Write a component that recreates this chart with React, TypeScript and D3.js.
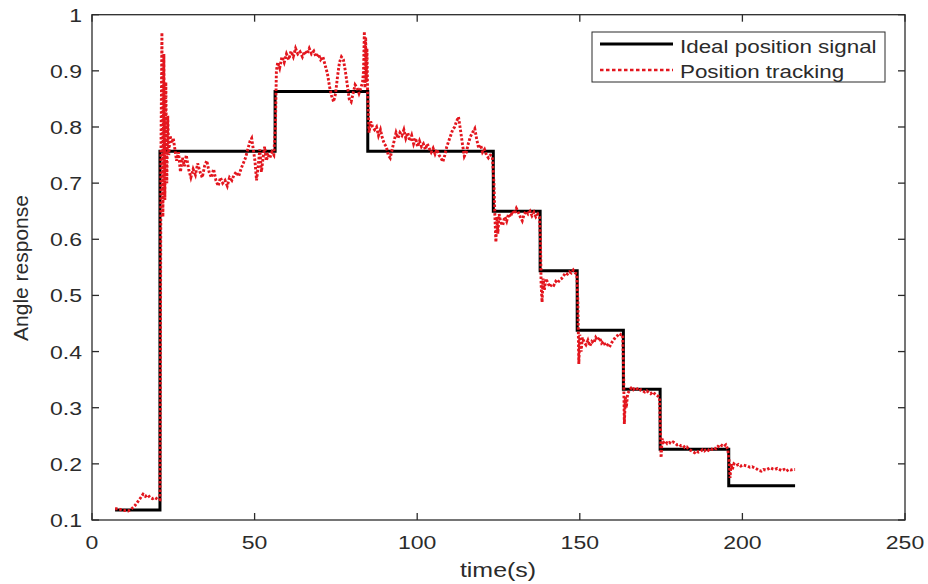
import * as React from 'react'
import * as d3 from 'd3'

// ideal step signal: switch times (s) and the level held from each switch
const idealTimes = [7.1, 20.9, 56.3, 84.8, 123.4, 137.8, 149.2, 163.4, 174.7, 195.8, 216.2]
const idealLevels = [0.118, 0.757, 0.863, 0.757, 0.65, 0.544, 0.438, 0.333, 0.226, 0.161, 0.161]

// measured position tracking, one list per step of the ideal signal
const trackLow: [number, number][] = [
  [7.1, 0.12], [8, 0.12], [9.1, 0.118], [10, 0.117], [11.1, 0.116], [12, 0.119], [13.1, 0.125],
  [14, 0.132], [15, 0.14], [15.7, 0.146], [16.4, 0.142], [17.1, 0.145], [17.9, 0.14], [18.6, 0.138],
  [19.4, 0.14], [20.1, 0.137], [20.9, 0.136],
]
const trackFirst: [number, number][] = [
  [21, 0.3], [21.2, 0.75], [21.5, 0.968], [21.8, 0.64], [22.1, 0.93], [22.4, 0.67], [22.7, 0.88],
  [23, 0.7], [23.3, 0.82], [23.6, 0.75], [24, 0.785], [24.5, 0.771], [25, 0.78], [25.5, 0.76],
  [26, 0.74], [26.6, 0.755], [27.2, 0.72], [27.8, 0.745], [28.4, 0.73], [29, 0.75], [29.7, 0.725],
  [30.4, 0.71], [31.1, 0.725], [31.8, 0.715], [32.5, 0.735], [33.2, 0.72], [33.9, 0.71], [34.6, 0.73],
  [35.3, 0.74], [36, 0.72], [36.7, 0.71], [37.4, 0.725], [38.1, 0.705], [38.8, 0.695], [39.5, 0.71],
  [40.2, 0.7], [40.9, 0.705], [41.6, 0.695], [42.3, 0.71], [43, 0.705], [43.7, 0.715], [44.4, 0.72],
  [45.1, 0.712], [45.8, 0.725], [46.5, 0.735], [47.2, 0.745], [47.9, 0.76], [48.6, 0.775], [49.1, 0.78],
  [49.6, 0.76], [50.1, 0.74], [50.6, 0.705], [51.1, 0.73], [51.6, 0.76], [52.1, 0.72], [52.6, 0.745],
  [53.1, 0.765], [53.6, 0.74], [54.1, 0.75], [54.7, 0.745], [55.3, 0.755], [55.9, 0.75],
]
const trackPeak: [number, number][] = [
  [56.4, 0.8], [56.7, 0.9], [57.1, 0.915], [57.7, 0.905], [58.4, 0.925], [59.1, 0.915], [59.8, 0.93],
  [60.5, 0.92], [61.2, 0.935], [61.9, 0.925], [62.6, 0.94], [63.3, 0.93], [64, 0.934], [64.7, 0.925],
  [65.4, 0.935], [66.1, 0.93], [66.8, 0.94], [67.5, 0.93], [68.2, 0.935], [68.9, 0.925], [69.6, 0.93],
  [70.3, 0.92], [71, 0.925], [71.7, 0.91], [72.4, 0.895], [73.1, 0.87], [73.7, 0.855], [74.3, 0.845],
  [74.9, 0.86], [75.5, 0.89], [76.1, 0.915], [76.7, 0.925], [77.3, 0.92], [77.9, 0.9], [78.5, 0.875],
  [79.1, 0.85], [79.7, 0.845], [80.3, 0.86], [80.9, 0.875], [81.5, 0.87], [82.1, 0.86], [82.7, 0.87],
  [83.2, 0.88], [83.5, 0.9], [83.75, 0.97], [83.95, 0.87], [84.15, 0.96], [84.35, 0.88], [84.55, 0.94],
  [84.75, 0.86],
]
const trackSecond: [number, number][] = [
  [85.2, 0.79], [85.7, 0.81], [86.3, 0.8], [86.9, 0.795], [87.5, 0.8], [88.1, 0.785], [88.7, 0.795],
  [89.3, 0.78], [89.9, 0.77], [90.5, 0.765], [91.1, 0.75], [91.7, 0.745], [92.3, 0.76], [92.9, 0.775],
  [93.5, 0.79], [94.1, 0.78], [94.7, 0.79], [95.3, 0.785], [95.9, 0.795], [96.5, 0.78], [97.1, 0.79],
  [97.7, 0.775], [98.3, 0.785], [98.9, 0.77], [99.5, 0.78], [100.1, 0.765], [100.7, 0.775], [101.3, 0.765],
  [101.9, 0.77], [102.5, 0.76], [103.1, 0.77], [103.7, 0.762], [104.3, 0.755], [104.9, 0.762],
  [105.5, 0.752], [106.1, 0.76], [106.7, 0.75], [107.3, 0.745], [107.9, 0.738], [108.5, 0.75],
  [109.1, 0.765], [109.7, 0.775], [110.3, 0.785], [110.9, 0.795], [111.5, 0.8], [112.1, 0.81],
  [112.7, 0.818], [113.3, 0.795], [113.9, 0.77], [114.5, 0.748], [115.1, 0.755], [115.7, 0.77],
  [116.3, 0.782], [117, 0.79], [117.7, 0.797], [118.3, 0.778], [118.9, 0.762], [119.5, 0.768],
  [120.1, 0.755], [120.7, 0.76], [121.3, 0.75], [121.9, 0.745], [122.5, 0.75], [123.1, 0.748],
]
const trackThird: [number, number][] = [
  [123.6, 0.7], [123.9, 0.64], [124.2, 0.595], [124.5, 0.64], [124.8, 0.61], [125.2, 0.645], [125.7, 0.63],
  [126.3, 0.625], [126.9, 0.64], [127.5, 0.632], [128.1, 0.645], [128.7, 0.64], [129.3, 0.65], [129.9, 0.645],
  [130.5, 0.655], [131.1, 0.648], [131.7, 0.64], [132.3, 0.633], [132.9, 0.645], [133.5, 0.65], [134.1, 0.645],
  [134.7, 0.65], [135.3, 0.642], [135.9, 0.648], [136.5, 0.64], [137.1, 0.645], [137.6, 0.64],
]
const trackFourth: [number, number][] = [
  [137.9, 0.6], [138.1, 0.52], [138.4, 0.488], [138.7, 0.53], [139.1, 0.51], [139.6, 0.53], [140.2, 0.522],
  [140.8, 0.515], [141.4, 0.52], [142, 0.518], [142.6, 0.525], [143.2, 0.522], [143.8, 0.528], [144.4, 0.53],
  [145, 0.535], [145.6, 0.54], [146.2, 0.538], [146.8, 0.542], [147.4, 0.54], [148, 0.545], [148.6, 0.54],
  [149.1, 0.538],
]
const trackFifth: [number, number][] = [
  [149.4, 0.49], [149.7, 0.378], [150, 0.43], [150.4, 0.4], [150.8, 0.425], [151.3, 0.417], [151.9, 0.412],
  [152.5, 0.42], [153.1, 0.41], [153.7, 0.418], [154.3, 0.415], [154.9, 0.425], [155.5, 0.42], [156.1, 0.425],
  [156.7, 0.415], [157.3, 0.418], [157.9, 0.41], [158.5, 0.412], [159.1, 0.408], [159.7, 0.415], [160.3, 0.42],
  [160.9, 0.425], [161.5, 0.428], [162.1, 0.432], [162.7, 0.43], [163.2, 0.43],
]
const trackSixth: [number, number][] = [
  [163.5, 0.35], [163.7, 0.271], [164, 0.32], [164.3, 0.3], [164.7, 0.325], [165.2, 0.33], [165.8, 0.335],
  [166.4, 0.332], [167, 0.336], [167.6, 0.334], [168.2, 0.33], [168.8, 0.332], [169.4, 0.33], [170, 0.328],
  [170.6, 0.33], [171.2, 0.327], [171.8, 0.325], [172.4, 0.328], [173, 0.325], [173.6, 0.322], [174.2, 0.32],
  [174.5, 0.318],
]
const trackSeventh: [number, number][] = [
  [174.8, 0.26], [175, 0.211], [175.3, 0.245], [175.7, 0.238], [176.3, 0.241], [176.9, 0.236], [177.5, 0.238],
  [178.1, 0.236], [178.7, 0.239], [179.3, 0.237], [179.9, 0.234], [180.5, 0.235], [181.1, 0.232], [181.7, 0.233],
  [182.3, 0.229], [182.9, 0.23], [183.5, 0.226], [184.1, 0.224], [184.7, 0.222], [185.3, 0.22], [185.9, 0.223],
  [186.5, 0.221], [187.1, 0.222], [187.7, 0.225], [188.3, 0.223], [188.9, 0.226], [189.5, 0.224], [190.1, 0.228],
  [190.7, 0.226], [191.3, 0.229], [191.9, 0.227], [192.5, 0.231], [193.1, 0.229], [193.7, 0.233], [194.3, 0.231],
  [194.9, 0.234], [195.5, 0.226],
]
const trackLast: [number, number][] = [
  [196, 0.2], [196.2, 0.175], [196.5, 0.2], [196.9, 0.19], [197.4, 0.2], [198.1, 0.197], [198.8, 0.199],
  [199.5, 0.196], [200.2, 0.198], [200.9, 0.197], [201.6, 0.196], [202.3, 0.194], [203, 0.195], [203.7, 0.193],
  [204.4, 0.191], [205.1, 0.188], [205.8, 0.187], [206.5, 0.19], [207.2, 0.189], [207.9, 0.191], [208.6, 0.193],
  [209.3, 0.191], [210, 0.19], [210.7, 0.192], [211.4, 0.19], [212.1, 0.188], [212.8, 0.19], [213.5, 0.187],
  [214.2, 0.19], [214.9, 0.189], [215.6, 0.19], [216.2, 0.19],
]

const xTickValues = [0, 50, 100, 150, 200, 250]
const yTickValues = [0.1, 0.2, 0.3, 0.4, 0.5, 0.6, 0.7, 0.8, 0.9, 1]
const legendLabels = ['Ideal position signal', 'Position tracking']

const width = 928
const height = 584
const plot = { left: 92, right: 905, top: 14.7, bottom: 520 }
const font = 'Liberation Sans, Arial, Helvetica, sans-serif'
const ink = '#2b2b2b'
const red = '#e3161e'
const stretch = 1.28

const Label = ({ x, y, size, anchor, children }: any) => (
  <text
    transform={`translate(${x},${y}) scale(${stretch},1)`}
    fontSize={size}
    fontFamily={font}
    fill={ink}
    textAnchor={anchor}
  >
    {children}
  </text>
)

export default function App() {
  const x = d3.scaleLinear().domain([0, 250]).range([plot.left, plot.right])
  const y = d3.scaleLinear().domain([0.1, 1]).range([plot.bottom, plot.top])

  const ideal = idealTimes.map((t, i) => [t, idealLevels[i]] as [number, number])
  const tracking = [
    ...trackLow, ...trackFirst, ...trackPeak, ...trackSecond, ...trackThird,
    ...trackFourth, ...trackFifth, ...trackSixth, ...trackSeventh, ...trackLast,
  ]

  const stepLine = d3.line<[number, number]>()
    .x(d => x(d[0]))
    .y(d => y(d[1]))
    .curve(d3.curveStepAfter)
  const trackLine = d3.line<[number, number]>()
    .x(d => x(d[0]))
    .y(d => y(d[1]))

  const tick = 7

  return (
    <svg
      width={width}
      height={height}
      style={{ position: 'absolute', left: 0, top: 0, background: '#fff' }}
    >
      <rect x={0} y={0} width={width} height={height} fill="#fff" />

      {/* axes box with inward ticks on all four sides */}
      <g stroke={ink} strokeWidth={1.3} fill="none">
        <rect x={plot.left} y={plot.top} width={plot.right - plot.left} height={plot.bottom - plot.top} />
        {xTickValues.map(v => (
          <g key={'xt' + v}>
            <line x1={x(v)} x2={x(v)} y1={plot.bottom} y2={plot.bottom - tick} />
            <line x1={x(v)} x2={x(v)} y1={plot.top} y2={plot.top + tick} />
          </g>
        ))}
        {yTickValues.map(v => (
          <g key={'yt' + v}>
            <line x1={plot.left} x2={plot.left + tick} y1={y(v)} y2={y(v)} />
            <line x1={plot.right} x2={plot.right - tick} y1={y(v)} y2={y(v)} />
          </g>
        ))}
      </g>

      {xTickValues.map(v => (
        <Label key={'xl' + v} x={x(v)} y={549} size={18} anchor="middle">{String(v)}</Label>
      ))}
      {yTickValues.map(v => (
        <Label key={'yl' + v} x={82} y={y(v) + 7} size={18} anchor="end">{d3.format('~g')(v)}</Label>
      ))}

      <Label x={498} y={577} size={19.5} anchor="middle">time(s)</Label>
      <text
        transform={`translate(28,268) rotate(-90)`}
        fontSize={21}
        fontFamily={font}
        fill={ink}
        textAnchor="middle"
      >
        Angle response
      </text>

      <path d={stepLine(ideal) || ''} fill="none" stroke="#000" strokeWidth={3} />
      <path
        d={trackLine(tracking) || ''}
        fill="none"
        stroke={red}
        strokeWidth={2.9}
        strokeDasharray="2.5,1.8"
      />

      {/* legend */}
      <rect x={592} y={32} width={293} height={50} fill="#fff" stroke={ink} strokeWidth={1} />
      <line x1={600} x2={673} y1={44} y2={44} stroke="#000" strokeWidth={3} />
      <line x1={600} x2={673} y1={70} y2={70} stroke={red} strokeWidth={2.6} strokeDasharray="3.5,2.5" />
      <Label x={680} y={53} size={17.5} anchor="start">{legendLabels[0]}</Label>
      <Label x={680} y={78} size={17.5} anchor="start">{legendLabels[1]}</Label>
    </svg>
  )
}
